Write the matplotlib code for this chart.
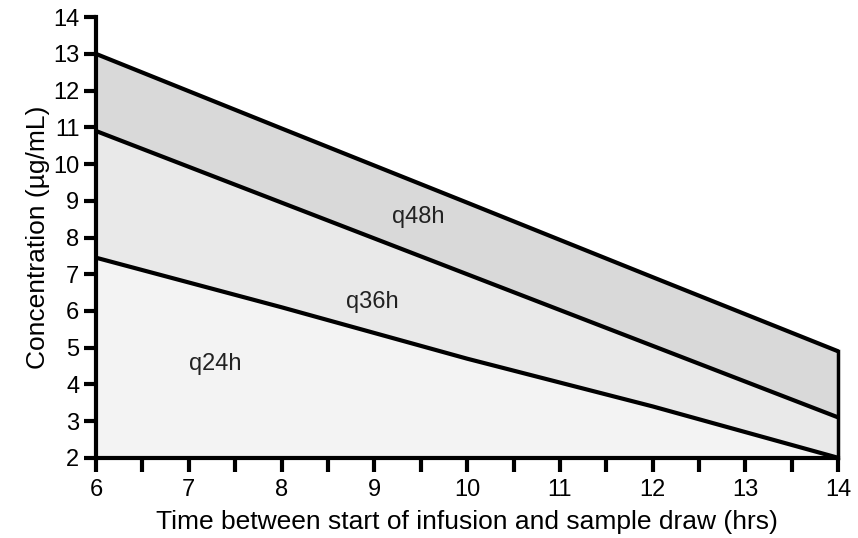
import matplotlib
matplotlib.use('Agg')
from matplotlib import pyplot as plt
import numpy as np

plt.rcParams['font.family'] = ['Liberation Sans', 'DejaVu Sans']

# 数据
hours = [6, 8, 10, 12, 14]
q48h = [13.0, 10.97, 8.95, 6.92, 4.9]
q36h = [10.9, 8.95, 7.0, 5.05, 3.1]
q24h = [7.45, 6.1, 4.7, 3.4, 2.0]
labels = ['q48h', 'q36h', 'q24h']
label_pos = [(9.47, 8.55), (8.98, 6.25), (7.28, 4.55)]

fig = plt.figure(figsize=(8.58, 5.38), dpi=100)
ax = fig.add_axes([0.112, 0.149, 0.865, 0.819])

ax.fill_between(hours, q36h, q48h, color='#d9d9d9', lw=0)
ax.fill_between(hours, q24h, q36h, color='#e9e9e9', lw=0)
ax.fill_between(hours, 2, q24h, color='#f3f3f3', lw=0)

for ys in (q48h, q36h, q24h):
    ax.plot(hours, ys, color='black', lw=3, solid_capstyle='butt', clip_on=False)
ax.plot([hours[-1], hours[-1]], [2, q48h[-1]], color='black', lw=2.5, clip_on=False)

for name, (x, y) in zip(labels, label_pos):
    ax.text(x, y, name, fontsize=17, ha='center', va='center', color='#222222')

ax.set_xlim(6, 14)
ax.set_ylim(2, 14)
ax.set_xticks(np.arange(6, 14.01, 1))
ax.set_xticks(np.arange(6.5, 14, 1), minor=True)
ax.set_yticks(np.arange(2, 14.01, 1))
ax.tick_params(axis='both', which='both', direction='out', width=3, color='black',
               labelsize=17, pad=4)
ax.tick_params(axis='x', which='both', length=10, pad=5)
ax.tick_params(axis='y', length=9, pad=3)

for s in ('top', 'right'):
    ax.spines[s].set_visible(False)
for s in ('left', 'bottom'):
    ax.spines[s].set_linewidth(3)

ax.set_xlabel('Time between start of infusion and sample draw (hrs)', fontsize=19, labelpad=7)
ax.set_ylabel('Concentration (µg/mL)', fontsize=19, labelpad=2)

plt.savefig('out.png', dpi=100)
